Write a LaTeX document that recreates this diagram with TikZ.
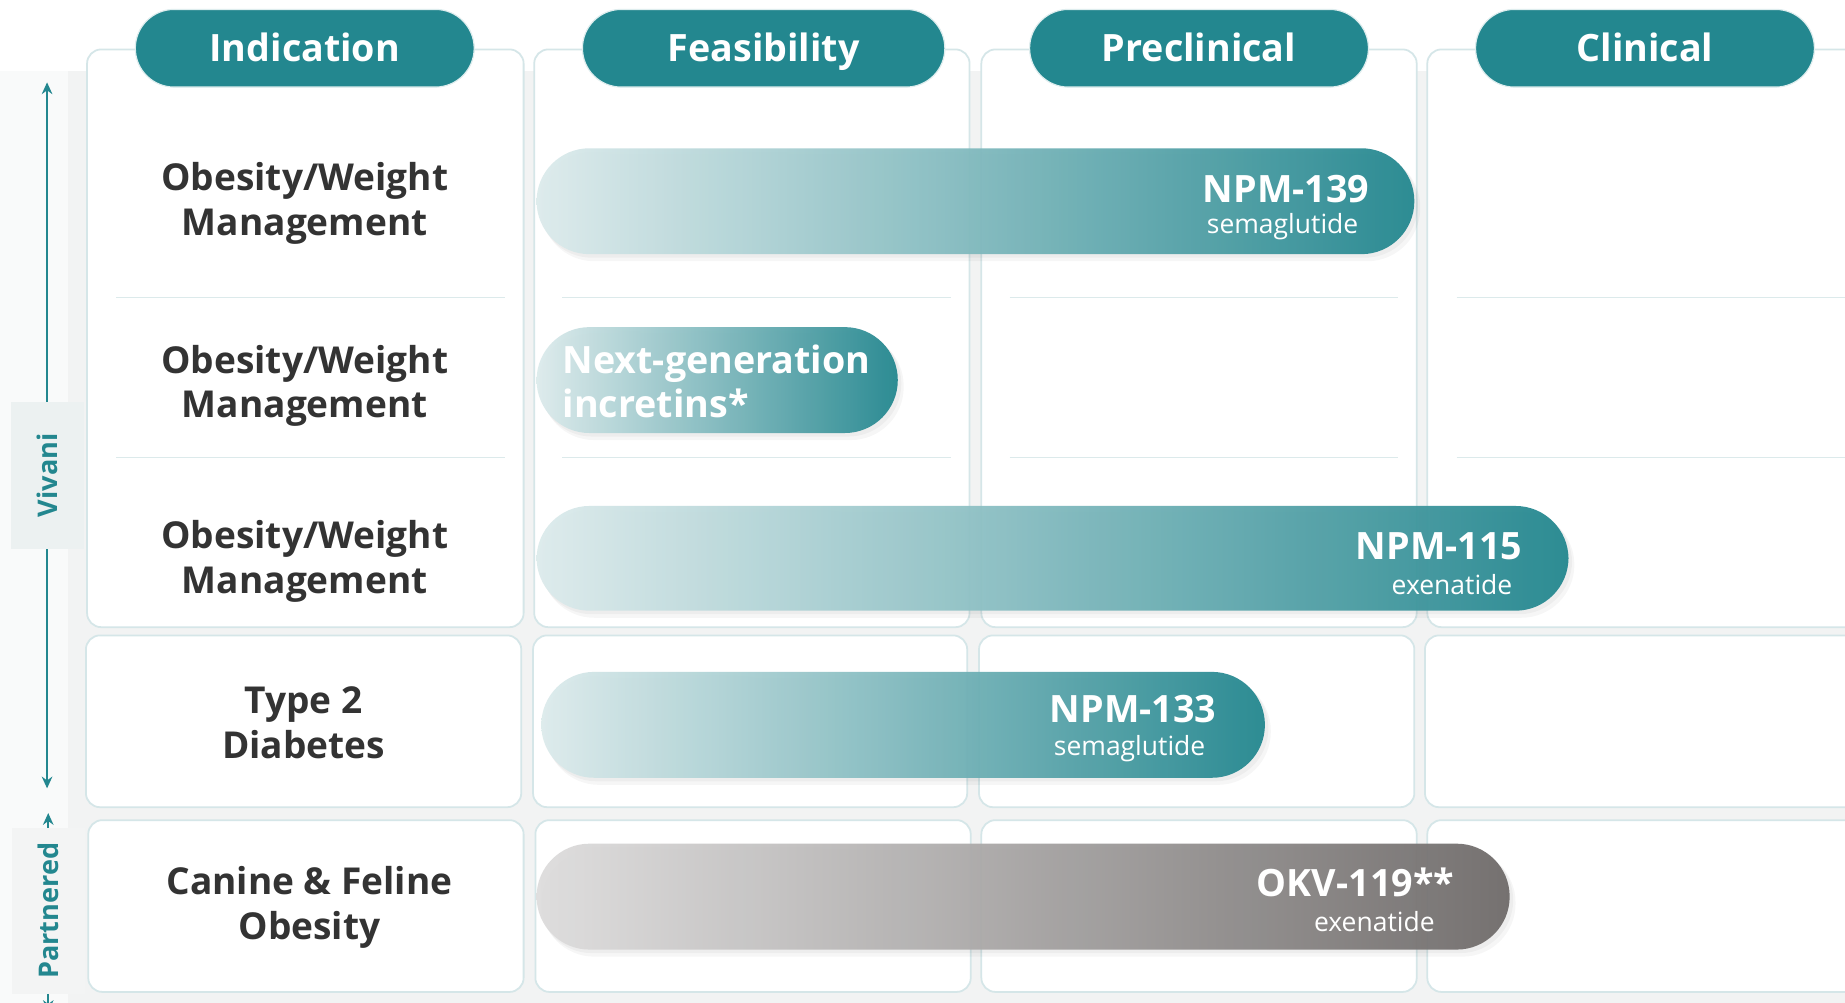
\documentclass[tikz,border=0pt]{standalone}
\usepackage{fontspec}
\setmainfont{Open Sans}
\usetikzlibrary{arrows.meta}
\definecolor{teal1}{HTML}{23878F}
\definecolor{tealL}{HTML}{DDEBEC}
\definecolor{txtd}{HTML}{333333}
\definecolor{cardb}{HTML}{D5E6E8}
\definecolor{divc}{HTML}{DCEAEB}
\definecolor{grayL}{HTML}{DEDDDD}
\definecolor{grayD}{HTML}{6F6B6A}
\definecolor{bgg}{HTML}{F2F3F3}
\definecolor{lbox}{HTML}{ECF1F1}
\begin{document}
\begin{tikzpicture}[x=1pt,y=-1pt,
  card/.style={draw=cardb, line width=1.5pt, fill=white, rounded corners=12pt},
  divline/.style={draw=divc, line width=1.2pt},
  header/.style={fill=teal1, draw=white!85!teal1, line width=1pt, rounded corners=33pt, minimum width=288pt, minimum height=66pt, text=white, font=\fontsize{32}{38}\selectfont\bfseries, inner sep=0pt, text height=26pt, text depth=4pt},
  rowlabel/.style={align=center, text=txtd, font=\fontsize{31.5}{38}\selectfont\bfseries, inner sep=0pt},
  tealbar/.style={left color=tealL, right color=teal1, fill opacity=0.95, rounded corners=45pt},
  graybar/.style={left color=grayL, right color=grayD, fill opacity=0.95, rounded corners=45pt},
  barshadow/.style={fill=black, fill opacity=0.035, rounded corners=45pt},
  bartitle/.style={text=white, font=\fontsize{32}{38}\selectfont\bfseries, inner sep=0pt},
  barsub/.style={text=white, font=\fontsize{22.5}{27}\selectfont, inner sep=0pt},
  axis/.style={draw=teal1, line width=1.5pt},
  tip/.style={-{Stealth[length=10pt,width=9pt]}},
  sidelabel/.style={fill=lbox, rotate=90, text=teal1, font=\fontsize{23}{28}\selectfont\bfseries, inner sep=0pt}
]
\clip (0,0) rectangle (1568,852);
\fill[white] (0,0) rectangle (1568,852);
\fill[bgg] (58,60) rectangle (1568,852);
\fill[bgg!45!white] (0,60) rectangle (58,852);

% column cards
\draw[card] (74,42) rectangle (445,533);
\draw[card] (454,42) rectangle (824,533);
\draw[card] (834,42) rectangle (1204,533);
\draw[card] (1213,42) rectangle (1620,533);
\draw[card] (73,540) rectangle (443,686);
\draw[card] (453,540) rectangle (822,686);
\draw[card] (832,540) rectangle (1202,686);
\draw[card] (1211,540) rectangle (1620,686);
\draw[card] (75,697) rectangle (445,843);
\draw[card] (455,697) rectangle (825,843);
\draw[card] (834,697) rectangle (1204,843);
\draw[card] (1213,697) rectangle (1620,843);

% dividers
\foreach \a/\b in {99/429, 478/808, 858/1188, 1238/1568}{
  \draw[divline] (\a,253) -- (\b,253);
  \draw[divline] (\a,389) -- (\b,389);
}

% headers
\node[header] (hind) at (259,41) {Indication};
\node[header, minimum width=308pt] (hfea) at (649,41) {Feasibility};
\node[header] (hpre) at (1019,41) {Preclinical};
\node[header] (hcli) at (1398,41) {Clinical};

% row labels
\node[rowlabel] (r1) at (259,173) {Obesity/Weight\\Management};
\node[rowlabel] (r2) at (259,328) {Obesity/Weight\\Management};
\node[rowlabel] (r3) at (259,477) {Obesity/Weight\\Management};
\node[rowlabel] (r4) at (258,614) {Type 2\\Diabetes};
\node[rowlabel] (r5) at (263,771) {Canine \& Feline\\Obesity};

% bars
\fill[barshadow] (460,131) rectangle (1207,222);
\fill[barshadow] (458,129) rectangle (1205,219);
\shade[tealbar] (456,126) rectangle (1202,216);
\node[bartitle] (t139) at (1093,161) {NPM-139};
\node[barsub] (s139) at (1090,193) {semaglutide};

\fill[barshadow] (460,283) rectangle (768,374);
\fill[barshadow] (458,281) rectangle (766,371);
\shade[tealbar] (456,278) rectangle (763,368);
\node[bartitle, anchor=west, align=left, font=\fontsize{32}{38}\selectfont\bfseries] (tnext) at (478,324) {Next-generation\\incretins*};

\fill[barshadow] (460,435) rectangle (1338,525);
\fill[barshadow] (458,433) rectangle (1336,522);
\shade[tealbar] (456,430) rectangle (1333,519);
\node[bartitle] (t115) at (1223,464) {NPM-115};
\node[barsub] (s115) at (1234,497) {exenatide};

\fill[barshadow] (464,576) rectangle (1080,667);
\fill[barshadow] (462,574) rectangle (1078,664);
\shade[tealbar] (460,571) rectangle (1075,661);
\node[bartitle] (t133) at (963,603) {NPM-133};
\node[barsub] (s133) at (960,636) {semaglutide};

\fill[barshadow] (460,722) rectangle (1288,813);
\fill[barshadow] (458,720) rectangle (1286,810);
\shade[graybar] (456,717) rectangle (1283,807);
\node[bartitle] (t119) at (1152,750) {OKV-119**};
\node[barsub] (s119) at (1168,783) {exenatide};

% side axis
\node[sidelabel, minimum width=125pt, minimum height=62pt] (viv) at (40,404) {Vivani};
\node[sidelabel, minimum width=141pt, minimum height=62pt, fill=lbox!80!gray!30] (part) at (41,774) {Partnered};
\coordinate (vtop) at (40,70);
\coordinate (vbot) at (40,670);
\coordinate (ptop) at (41,691);
\coordinate (pbot) at (41,860);
\draw[axis, tip] (viv.east) -- (vtop);
\draw[axis, tip] (viv.west) -- (vbot);
\draw[axis, tip] (part.east) -- (ptop);
\draw[axis, tip] (part.west) -- (pbot);
\end{tikzpicture}
\end{document}
